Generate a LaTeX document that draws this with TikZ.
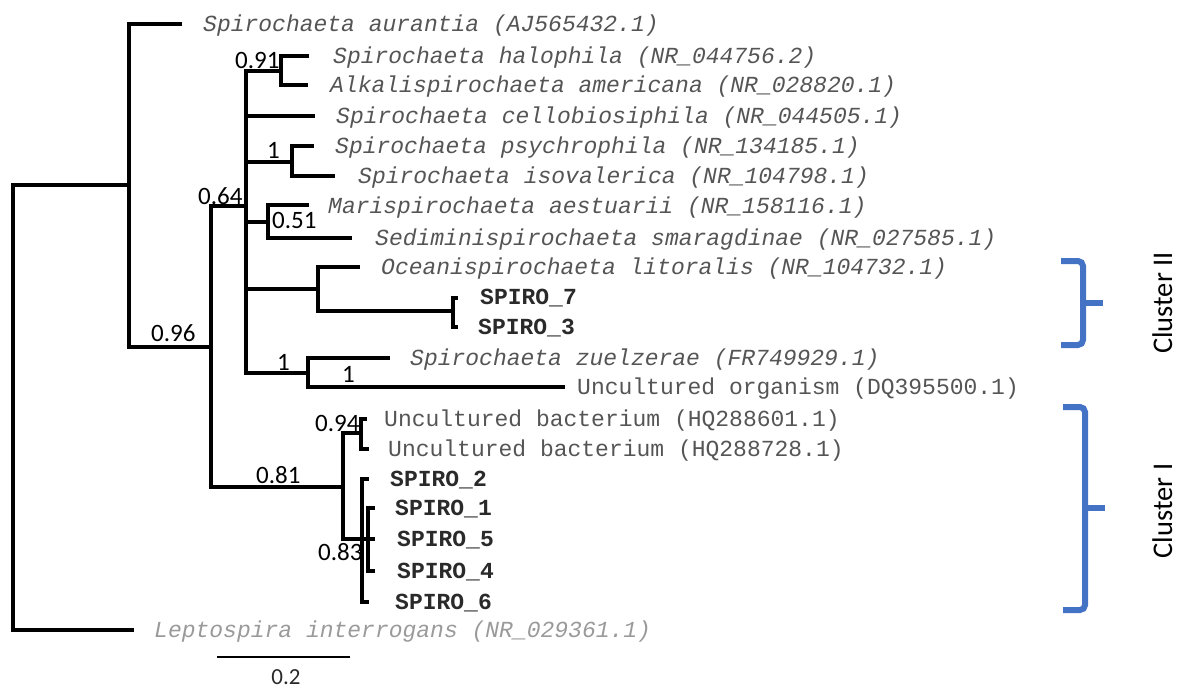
\documentclass[tikz,border=0pt]{standalone}
\usepackage{fontspec}
\setmainfont{Carlito}
\newfontfamily\monof{Liberation Mono}
\definecolor{spgray}{HTML}{555555}
\definecolor{spirodark}{HTML}{2A2A2A}
\definecolor{leptogray}{HTML}{9A9A9A}
\definecolor{clublue}{HTML}{4472C4}
\begin{document}
\begin{tikzpicture}[x=1pt,y=-1pt,
  br/.style={line width=3.2pt, line join=miter, line cap=rect},
  sp/.style={font=\monof\itshape\fontsize{23}{23}\selectfont, text=spgray, anchor=base west, inner sep=0pt},
  unc/.style={font=\monof\fontsize{23}{23}\selectfont, text=spgray, anchor=base west, inner sep=0pt},
  spiro/.style={font=\monof\bfseries\fontsize{23}{23}\selectfont, text=spirodark, anchor=base west, inner sep=0pt},
  lepto/.style={font=\monof\itshape\fontsize{23}{23}\selectfont, text=leptogray, anchor=base west, inner sep=0pt},
  bootval/.style={font=\fontsize{25}{25}\selectfont, anchor=base west, inner sep=0pt},
  cluster/.style={font=\fontsize{28.5}{28.5}\selectfont, rotate=90, anchor=base, inner sep=0pt},
  bracket/.style={draw=clublue, line width=6pt, rounded corners=5pt}
]
\useasboundingbox (0,0) rectangle (1177,689);

% internal nodes
\coordinate (root) at (13,407);
\coordinate (A) at (129,185);
\coordinate (B) at (211,347);
\coordinate (C) at (246,206);
\coordinate (D) at (281,71);
\coordinate (E) at (292,162);
\coordinate (F) at (268,222);
\coordinate (G) at (318,289);
\coordinate (H) at (453,311);
\coordinate (I) at (308,373);
\coordinate (J) at (343,487);
\coordinate (K) at (361,433);
\coordinate (L) at (362,539);
\coordinate (M) at (368,539);

% leaf tips
\coordinate (l01) at (180,24);
\coordinate (l02) at (307,56);
\coordinate (l03) at (306,85);
\coordinate (l04) at (313,116);
\coordinate (l05) at (312,146);
\coordinate (l06) at (333,176);
\coordinate (l07) at (307,205);
\coordinate (l08) at (350,238);
\coordinate (l09) at (358,267);
\coordinate (l10) at (456,298);
\coordinate (l11) at (456,327);
\coordinate (l12) at (388,358);
\coordinate (l13) at (563,387);
\coordinate (l14) at (365,419);
\coordinate (l15) at (367,449);
\coordinate (l16) at (367,479);
\coordinate (l17) at (373,508);
\coordinate (l18) at (373,539);
\coordinate (l19) at (373,571);
\coordinate (l20) at (367,602);
\coordinate (l21) at (132,630);

% branches
\draw[br] (root) |- (A);
\draw[br] (root) |- (l21);
\draw[br] (A) |- (l01);
\draw[br] (A) |- (B);
\draw[br] (B) |- (C);
\draw[br] (B) |- (J);
\draw[br] (C) |- (D);
\draw[br] (C) |- (l04);
\draw[br] (C) |- (E);
\draw[br] (C) |- (F);
\draw[br] (C) |- (G);
\draw[br] (C) |- (I);
\draw[br] (D) |- (l02);
\draw[br] (D) |- (l03);
\draw[br] (E) |- (l05);
\draw[br] (E) |- (l06);
\draw[br] (F) |- (l07);
\draw[br] (F) |- (l08);
\draw[br] (G) |- (l09);
\draw[br] (G) |- (H);
\draw[br] (H) |- (l10);
\draw[br] (H) |- (l11);
\draw[br] (I) |- (l12);
\draw[br] (I) |- (l13);
\draw[br] (J) |- (K);
\draw[br] (J) |- (L);
\draw[br] (K) |- (l14);
\draw[br] (K) |- (l15);
\draw[br] (L) |- (l16);
\draw[br] (L) -- (M);
\draw[br] (L) |- (l20);
\draw[br] (M) |- (l17);
\draw[br] (M) -- (l18);
\draw[br] (M) |- (l19);

% leaf labels
\node[sp] (t01) at (203,31) {Spirochaeta aurantia (AJ565432.1)};
\node[sp] (t02) at (333,63) {Spirochaeta halophila (NR\_044756.2)};
\node[sp] (t03) at (330,92) {Alkalispirochaeta americana (NR\_028820.1)};
\node[sp] (t04) at (336,123) {Spirochaeta cellobiosiphila (NR\_044505.1)};
\node[sp] (t05) at (335,153) {Spirochaeta psychrophila (NR\_134185.1)};
\node[sp] (t06) at (358,183) {Spirochaeta isovalerica (NR\_104798.1)};
\node[sp] (t07) at (328,213) {Marispirochaeta aestuarii (NR\_158116.1)};
\node[sp] (t08) at (375,245) {Sediminispirochaeta smaragdinae (NR\_027585.1)};
\node[sp] (t09) at (381,274) {Oceanispirochaeta litoralis (NR\_104732.1)};
\node[spiro] (t10) at (480,304) {SPIRO\_7};
\node[spiro] (t11) at (478,334) {SPIRO\_3};
\node[sp] (t12) at (410,365) {Spirochaeta zuelzerae (FR749929.1)};
\node[unc] (t13) at (577,394) {Uncultured organism (DQ395500.1)};
\node[unc] (t14) at (384,426) {Uncultured bacterium (HQ288601.1)};
\node[unc] (t15) at (388,456) {Uncultured bacterium (HQ288728.1)};
\node[spiro] (t16) at (390,486) {SPIRO\_2};
\node[spiro] (t17) at (395,515) {SPIRO\_1};
\node[spiro] (t18) at (397,546) {SPIRO\_5};
\node[spiro] (t19) at (397,578) {SPIRO\_4};
\node[spiro] (t20) at (395,609) {SPIRO\_6};
\node[lepto] (t21) at (154,637) {Leptospira interrogans (NR\_029361.1)};

% support values
\node[bootval] (bD) at (235,68) {0.91};
\node[bootval] (bE) at (267,158) {1};
\node[bootval] (bC) at (198,204) {0.64};
\node[bootval] (bF) at (272,228) {0.51};
\node[bootval] (bB) at (151,341) {0.96};
\node[bootval] (bI1) at (277,370) {1};
\node[bootval] (bI2) at (342,382) {1};
\node[bootval] (bK) at (315,431) {0.94};
\node[bootval] (bJ) at (256,483) {0.81};
\node[bootval] (bL) at (318,560) {0.83};

% scale bar
\coordinate (sbL) at (217,657);
\coordinate (sbR) at (350,657);
\draw[line width=2pt] (sbL) -- (sbR);
\node[font=\fontsize{23}{23}\selectfont, text=spirodark, anchor=base, inner sep=0pt] (sbT) at (286,684) {0.2};

% cluster brackets
\draw[bracket] (1061,261) -- (1083,261) -- (1083,345) -- (1061,345);
\draw[draw=clublue, line width=6pt] (1083,303) -- (1103,303);
\node[cluster] (c2) at (1172,303) {Cluster II};
\draw[bracket] (1063,407) -- (1085,407) -- (1085,610) -- (1063,610);
\draw[draw=clublue, line width=6pt] (1085,508) -- (1105,508);
\node[cluster] (c1) at (1172,511) {Cluster I};
\end{tikzpicture}
\end{document}
